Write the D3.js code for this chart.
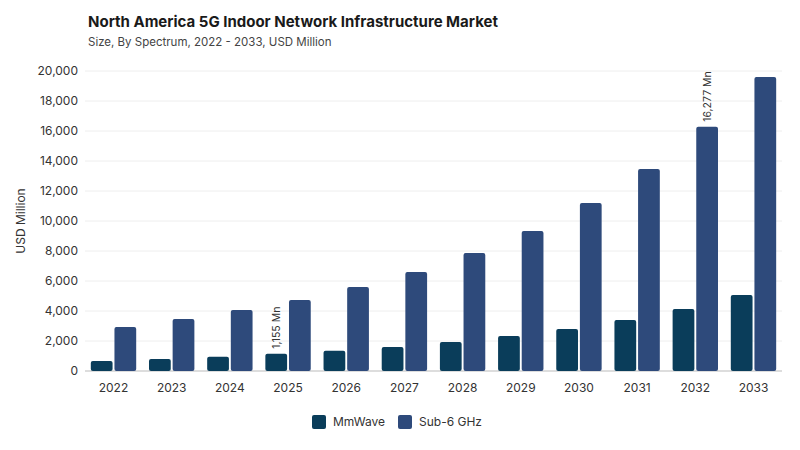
<!DOCTYPE html>
<html><head><meta charset="utf-8">
<script src="https://cdn.jsdelivr.net/npm/d3@7"></script>
<style>body{margin:0;background:#fff;font-family:Inter,sans-serif}</style>
</head><body><svg id="c" width="800" height="450"></svg>
<script>
const years=["2022","2023","2024","2025","2026","2027","2028","2029","2030","2031","2032","2033"];
const mmwave=[670,800,950,1155,1350,1600,1930,2330,2800,3400,4130,5060];
const sub6=[2930,3470,4070,4740,5600,6600,7870,9340,11200,13470,16277,19600];
const yTicks=[0,2000,4000,6000,8000,10000,12000,14000,16000,18000,20000];
const seriesNames=["MmWave","Sub-6 GHz"];
const colors=["#0a3d5a","#2e4a7b"];
const svg=d3.select("#c");
svg.append("text").attr("x",88).attr("y",27).attr("font-size",15).attr("font-weight",700).attr("fill","#1a1a1a").text("North America 5G Indoor Network Infrastructure Market");
svg.append("text").attr("x",88).attr("y",46).attr("font-size",11.5).attr("fill","#444").text("Size, By Spectrum, 2022 - 2033, USD Million");
const x=d3.scaleBand().domain(years).range([85,782]).paddingInner(0.22).paddingOuter(0.1);
const y=d3.scaleLinear().domain([0,20000]).range([371,71]);
const x1=d3.scaleBand().domain([0,1]).range([0,x.bandwidth()]).paddingInner(0.08);
const g=svg.append("g");
yTicks.forEach(t=>{g.append("line").attr("x1",85).attr("x2",782).attr("y1",y(t)).attr("y2",y(t)).attr("stroke",t===0?"#bbb":"#eee");
g.append("text").attr("x",78).attr("y",y(t)+4).attr("text-anchor","end").attr("font-size",12).attr("fill","#333").text(d3.format(",")(t));});
svg.append("text").attr("transform","translate(25,221) rotate(-90)").attr("text-anchor","middle").attr("font-size",12).attr("fill","#333").text("USD Million");
[mmwave,sub6].forEach((s,i)=>{
 g.selectAll(null).data(years).enter().append("rect").attr("x",d=>x(d)+x1(i)).attr("width",x1.bandwidth()).attr("y",(d,j)=>y(s[j])).attr("height",(d,j)=>371-y(s[j])).attr("rx",2).attr("fill",colors[i]);
});
years.forEach(d=>g.append("text").attr("x",x(d)+x.bandwidth()/2).attr("y",392).attr("text-anchor","middle").attr("font-size",12).attr("fill","#333").text(d));
function lab(i,si,v){const s=si?sub6:mmwave;const cx=x(years[i])+x1(si)+x1.bandwidth()/2;
 g.append("text").attr("transform",`translate(${cx+4},${y(s[i])-5}) rotate(-90)`).attr("font-size",10.5).attr("fill","#333").text(v);}
lab(3,0,"1,155 Mn");lab(10,1,"16,277 Mn");
const lg=svg.append("g");
[[312,0],[398,1]].forEach(([lx,i])=>{lg.append("rect").attr("x",lx).attr("y",415).attr("width",14).attr("height",14).attr("rx",2).attr("fill",colors[i]);
lg.append("text").attr("x",lx+21).attr("y",426).attr("font-size",12).attr("fill","#333").text(seriesNames[i]);});
</script></body></html>
